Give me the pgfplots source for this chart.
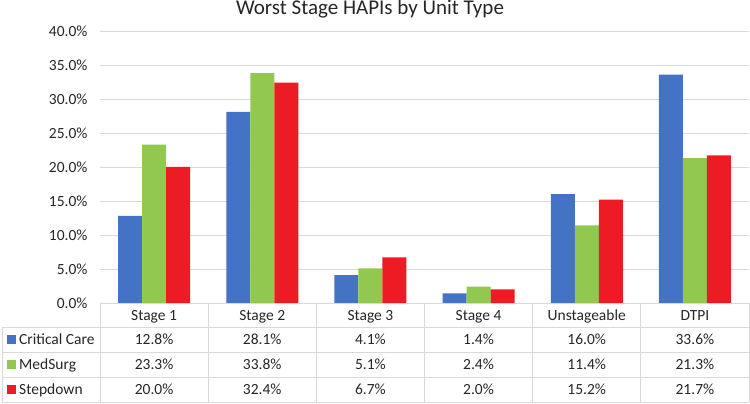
\documentclass[border=0pt]{standalone}
\usepackage{pgfplots}
\pgfplotsset{compat=1.18}
\usepackage{pgfplotstable}
\usepackage{fontspec}
\setmainfont{Carlito}
\definecolor{cblue}{HTML}{4472C4}
\definecolor{cgreen}{HTML}{92C84F}
\definecolor{cred}{HTML}{ED1C24}
\definecolor{gridc}{HTML}{D9D9D9}
\definecolor{txt}{HTML}{262626}
\pgfplotstableread{
x cc ms sd
0 12.8 23.3 20.0
1 28.1 33.8 32.4
2 4.1 5.1 6.7
3 1.4 2.4 2.0
4 16.0 11.4 15.2
5 33.6 21.3 21.7
}\data
\begin{document}
\begin{tikzpicture}[x=1pt,y=1pt]
\useasboundingbox (0,0) rectangle (750,404);
\begin{axis}[at={(100pt,101pt)}, anchor=south west, scale only axis,
  width=649pt, height=272pt, xmin=-0.5, xmax=5.5, ymin=0, ymax=40,
  ybar=0pt, bar width=24pt, axis line style={draw=none}, major tick length=0pt,
  xtick=\empty, ytick={0,5,...,40}, ymajorgrids,
  grid style={gridc, line width=0.9pt},
  /pgf/number format/assume math mode=true,
  yticklabel={\pgfmathprintnumber[fixed,fixed zerofill,precision=1]{\tick}\%},
  yticklabel style={font=\fontsize{15.5}{18}\selectfont, text=txt, xshift=-9pt},
  clip=false]
\addplot[fill=cblue, draw=none] table[x=x,y=cc]{\data};
\addplot[fill=cgreen, draw=none] table[x=x,y=ms]{\data};
\addplot[fill=cred, draw=none] table[x=x,y=sd]{\data};
\end{axis}
\node[anchor=base, font=\fontsize{21}{25}\selectfont, text=txt] at (370,389) {Worst Stage HAPIs by Unit Type};
\begin{scope}[gridc, line width=0.9pt]
\draw (100,101) -- (749,101);
\foreach \y in {77,52,27,2} \draw (2,\y) -- (749,\y);
\draw (2,77) -- (2,2);
\foreach \k in {0,...,6} \draw ({100+108.1667*\k},101) -- ({100+108.1667*\k},2);
\end{scope}
\begin{scope}[every node/.style={anchor=base, text=txt, font=\fontsize{15.5}{18}\selectfont, inner sep=0pt}]
\foreach \n [count=\i from 0] in {Stage 1,Stage 2,Stage 3,Stage 4,Unstageable,DTPI}
  \node at ({154.08+108.1667*\i},83) {\n};
\foreach \v [count=\i from 0] in {12.8,28.1,4.1,1.4,16.0,33.6}
  \node at ({154.08+108.1667*\i},59) {\v\%};
\foreach \v [count=\i from 0] in {23.3,33.8,5.1,2.4,11.4,21.3}
  \node at ({154.08+108.1667*\i},34) {\v\%};
\foreach \v [count=\i from 0] in {20.0,32.4,6.7,2.0,15.2,21.7}
  \node at ({154.08+108.1667*\i},9) {\v\%};
\fill[cblue] (7,60) rectangle (16,69);
\fill[cgreen] (7,35) rectangle (16,44);
\fill[cred] (7,10) rectangle (16,19);
\node[anchor=base west] at (19,59) {Critical Care};
\node[anchor=base west] at (19,34) {MedSurg};
\node[anchor=base west] at (19,9) {Stepdown};
\end{scope}
\end{tikzpicture}
\end{document}
